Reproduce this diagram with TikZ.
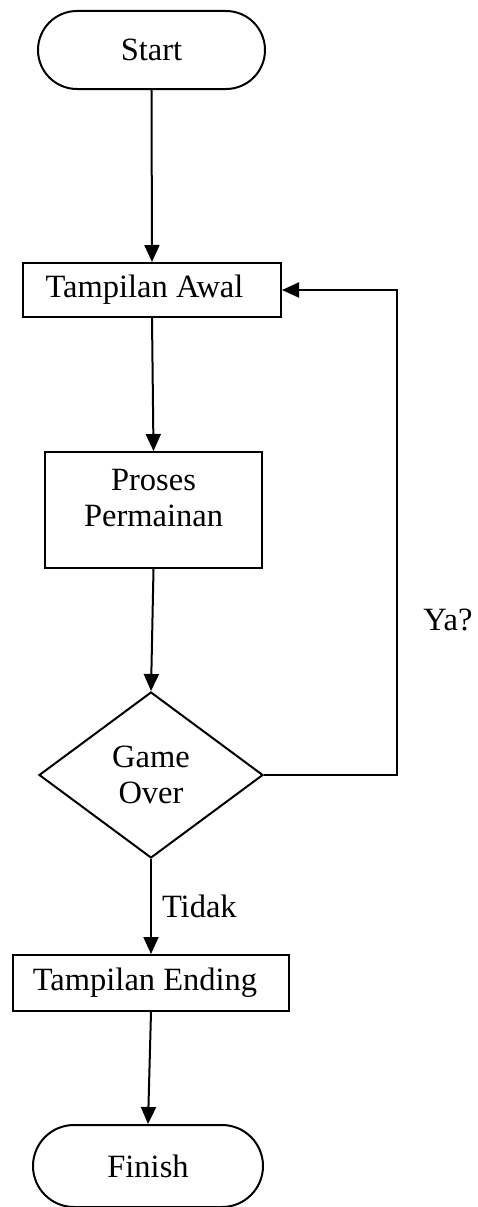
\documentclass[tikz,border=0pt]{standalone}
\usepackage{fontspec}
\setmainfont{Liberation Serif}
\usepackage{tikz}
\usetikzlibrary{shapes,shapes.geometric,arrows.meta,positioning,calc}

\begin{document}
\begin{tikzpicture}[x=1pt, y=-1pt, line width=2pt,
    every node/.style={font=\fontsize{32.5}{36}\selectfont, inner sep=0pt},
    terminal/.style={draw, rectangle, rounded corners=39pt, minimum height=78pt},
    process/.style={draw, rectangle},
    decision/.style={draw, diamond, minimum width=224pt, minimum height=166pt, align=center},
    arr/.style={-{Triangle[length=17pt, width=15pt]}}]
  \useasboundingbox (0,0) rectangle (477,1207);
  % nodes
  \node[terminal, minimum width=227pt] (start) at (151.5,50) {Start};
  \node[process, minimum width=258pt, minimum height=54pt] (awal) at (152,290) {Tampilan Awal\kern15pt};
  \node[process, minimum width=217pt, minimum height=116pt, align=center] (proses) at (153.5,510)
    {Proses\\Permainan\\[-12pt]};
  \node[decision] (game) at (151,775) {Game\\Over};
  \node[process, minimum width=276pt, minimum height=56pt] (ending) at (151,983) {Tampilan Ending\kern12pt};
  \node[terminal, minimum width=230pt, minimum height=82pt, rounded corners=41pt] (finish) at (148,1166) {Finish};
  % connectors
  \draw[arr] (start.south) -- (awal.north);
  \draw[arr] (awal.south) -- (proses.north);
  \draw[arr] (proses.south) -- (game.north);
  \coordinate (loop) at (397,775);
  \draw[arr] (game.east) -- (loop) |- (awal.east);
  \node (ya) at (448,620) {Ya?};
  \draw[arr] (game.south) -- node[right=10pt] (tidak) {Tidak} (ending.north);
  \draw[arr] (ending.south) -- (finish.north);
\end{tikzpicture}
\end{document}
